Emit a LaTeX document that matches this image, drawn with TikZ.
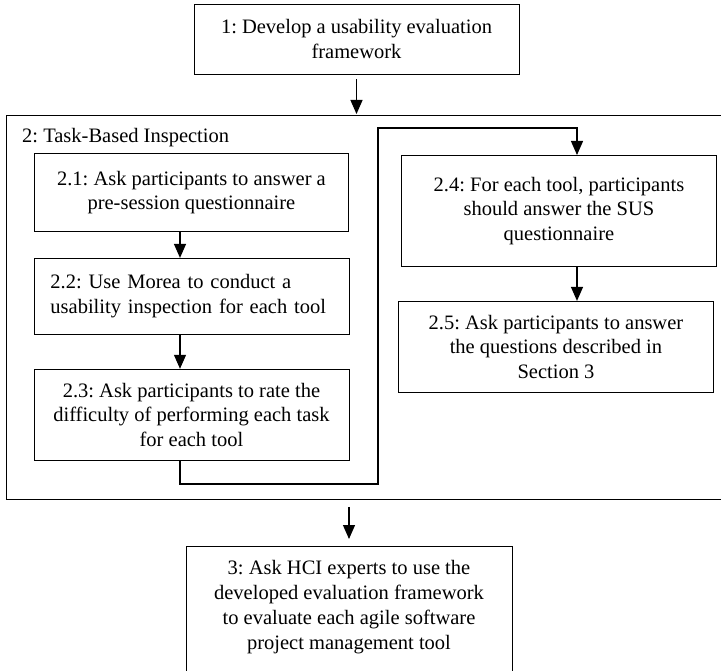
\documentclass[tikz,border=0pt]{standalone}
\usepackage{fontspec}
\setmainfont{Liberation Serif}
\usetikzlibrary{arrows.meta,positioning}
\frenchspacing

\begin{document}
\begin{tikzpicture}[
    x=1pt,y=-1pt,
    node distance=26pt,
    task/.style={draw,line width=0.9pt,inner sep=0pt,minimum width=315pt,align=center,font=\fontsize{20.5}{24.5}\selectfont},
    arrow/.style={-{Triangle[width=12pt,length=14pt]},line width=1.2pt}
  ]
  \clip (0,0) rectangle (721,671);
  \node[task,minimum width=325pt,minimum height=70pt] (dev) at (356.5,39) {1: Develop a usability evaluation\\framework};
  % outer box of step 2
  \node[draw,line width=0.9pt,anchor=north west,inner sep=0pt,minimum width=740pt,minimum height=384pt] (insp) at (6,115) {};
  \node[anchor=west,inner sep=0pt,font=\fontsize{20.5}{24.5}\selectfont] (insplabel) at (22,138) {2: Task-Based Inspection};
  \node[task,anchor=north west,minimum width=314pt,minimum height=78pt] (t21) at (34,153) {2.1: Ask participants to answer a\\pre-session questionnaire};
  \node[task,below=of t21,minimum height=76pt,text width=282pt,align=left] (t22) {2.2: Use Morea to conduct a\\usability inspection for each tool};
  \node[task,below=34pt of t22,minimum height=91pt] (t23) {2.3: Ask participants to rate the\\difficulty of performing each task\\for each tool};
  \node[task,anchor=north west,minimum height=111pt] (t24) at (401,155) {2.4: For each tool, participants\\should answer the SUS\\questionnaire};
  \node[task,below=34pt of t24,xshift=-3pt,minimum height=91pt] (t25) {2.5: Ask participants to answer\\the questions described in\\Section 3};
  \node[task,anchor=north,minimum width=326pt,inner ysep=14pt,text depth=40pt,font=\fontsize{20.5}{25}\selectfont] (t3) at (349,546) {3: Ask HCI experts to use the\\developed evaluation framework\\to evaluate each agile software\\project management tool};
  % connector points
  \coordinate (lcol) at (180,0);
  \coordinate (turnlow) at (378,484);
  \coordinate (turnhigh) at (378,128);
  \coordinate (entry24) at (577,128);
  \draw[arrow,shorten <=5pt,shorten >=1pt] (dev.south) -- (dev.south |- insp.north);
  \draw[arrow] (lcol |- t21.south) -- (lcol |- t22.north);
  \draw[arrow] (lcol |- t22.south) -- (lcol |- t23.north);
  \draw[arrow] (lcol |- t23.south) |- (turnlow) -- (turnhigh) -- (entry24) -- (entry24 |- t24.north);
  \draw[arrow] (entry24 |- t24.south) -- (entry24 |- t25.north);
  \draw[arrow,shorten <=7pt,shorten >=7pt] (t3.north |- insp.south) -- (t3.north);
\end{tikzpicture}
\end{document}
